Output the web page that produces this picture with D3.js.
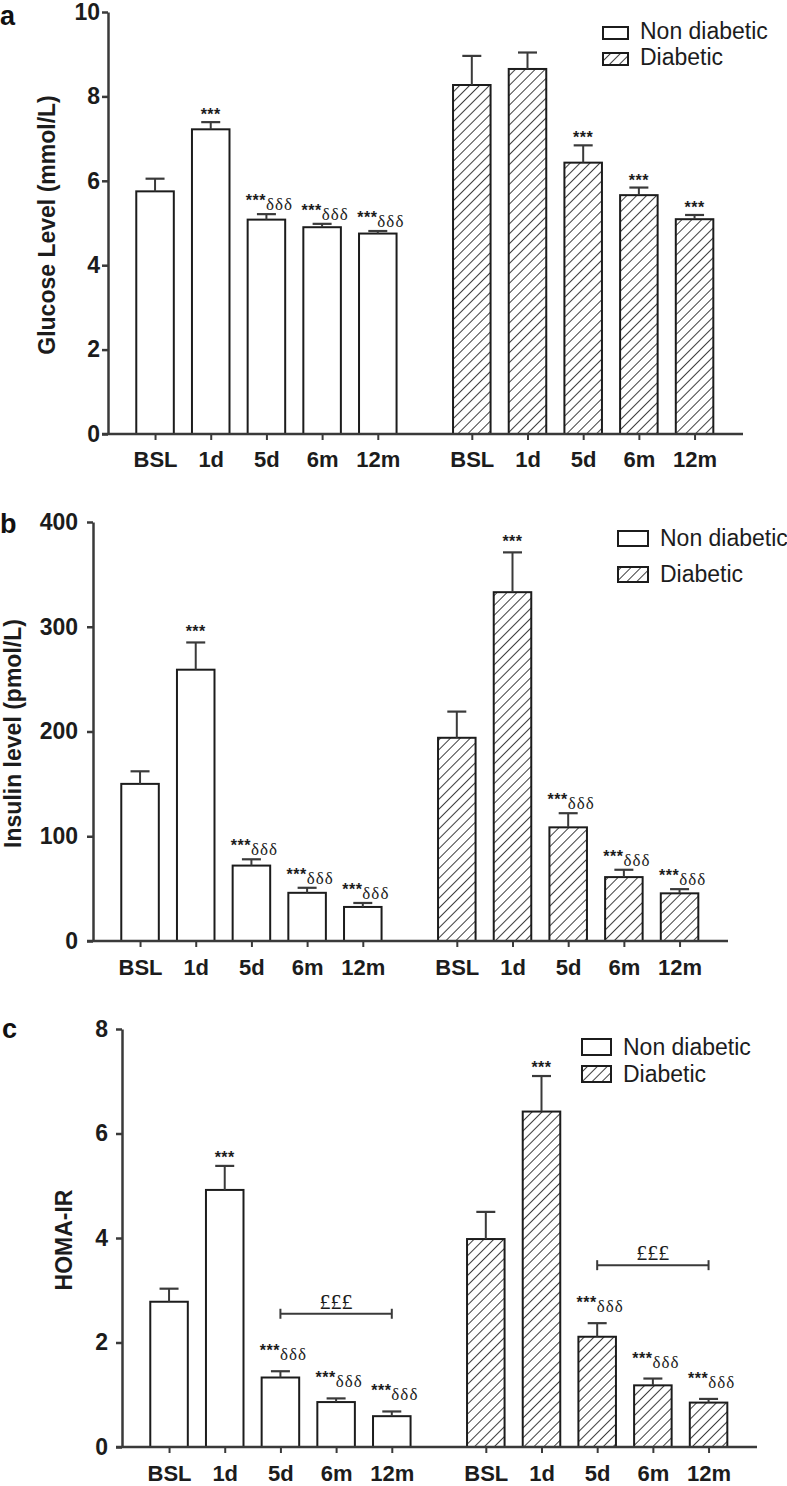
<!DOCTYPE html>
<html><head><meta charset="utf-8">
<script src="https://cdn.jsdelivr.net/npm/d3@7"></script>
<style>body{margin:0;background:#fff}svg{display:block}</style>
</head><body><svg id="chart" width="787" height="1486"></svg>
<script>
// ---------- data ----------
const categories = ["BSL", "1d", "5d", "6m", "12m"];
const groups = ["Non diabetic", "Diabetic"];

const glucoseND    = [5.75, 7.22, 5.08, 4.90, 4.75];
const glucoseNDErr = [0.30, 0.17, 0.13, 0.08, 0.06];
const glucoseD     = [8.27, 8.65, 6.43, 5.66, 5.09];
const glucoseDErr  = [0.69, 0.39, 0.41, 0.18, 0.10];
const glucoseNDAnn = ["", "***", "***δδδ", "***δδδ", "***δδδ"];
const glucoseDAnn  = ["", "", "***", "***", "***"];

const insulinND    = [150, 259, 72, 46, 32.5];
const insulinNDErr = [12, 26, 6, 4.8, 3.8];
const insulinD     = [194, 333, 108.5, 61, 45.5];
const insulinDErr  = [25, 38, 13.5, 7, 4];
const insulinNDAnn = ["", "***", "***δδδ", "***δδδ", "***δδδ"];
const insulinDAnn  = ["", "***", "***δδδ", "***δδδ", "***δδδ"];

const homaND    = [2.78, 4.92, 1.33, 0.86, 0.59];
const homaNDErr = [0.25, 0.46, 0.12, 0.07, 0.09];
const homaD     = [3.98, 6.42, 2.11, 1.18, 0.85];
const homaDErr  = [0.52, 0.68, 0.26, 0.13, 0.07];
const homaNDAnn = ["", "***", "***δδδ", "***δδδ", "***δδδ"];
const homaDAnn  = ["", "***", "***δδδ", "***δδδ", "***δδδ"];
// bracket comparisons: [group, from, to, level, label]
const homaBrackets = [["Non diabetic", "5d", "12m", 2.55, "£££"], ["Diabetic", "5d", "12m", 3.48, "£££"]];

const glucoseTicks = [0, 2, 4, 6, 8, 10];
const insulinTicks = [0, 100, 200, 300, 400];
const homaTicks = [0, 2, 4, 6, 8];

// ---------- layout ----------
const panels = [
  {letter: "a", letterX: 0, letterY: 25, label: "Glucose Level (mmol/L)", labelX: 55,
   nd: glucoseND, ndErr: glucoseNDErr, d: glucoseD, dErr: glucoseDErr, ndAnn: glucoseNDAnn, dAnn: glucoseDAnn,
   brackets: [], domain: [0, 10], ticks: glucoseTicks, x0: 108, yTop: 12, yBottom: 434,
   yPad: 2, xPad: 11, liftS: 2, liftC: 8,
   legend: {x: 603, y: 27, w: 25, h: 12, dy: 26}},
  {letter: "b", letterX: 0, letterY: 533, label: "Insulin level (pmol/L)", labelX: 21,
   nd: insulinND, ndErr: insulinNDErr, d: insulinD, dErr: insulinDErr, ndAnn: insulinNDAnn, dAnn: insulinDAnn,
   brackets: [], domain: [0, 400], ticks: insulinTicks, x0: 93, yTop: 522, yBottom: 941,
   yPad: 9, xPad: 12, liftS: 5, liftC: 8,
   legend: {x: 618, y: 531, w: 30, h: 15, dy: 36}},
  {letter: "c", letterX: 2, letterY: 1038, label: "HOMA-IR", labelX: 72,
   nd: homaND, ndErr: homaNDErr, d: homaD, dErr: homaDErr, ndAnn: homaNDAnn, dAnn: homaDAnn,
   brackets: homaBrackets, domain: [0, 8], ticks: homaTicks, x0: 122, yTop: 1029, yBottom: 1447,
   yPad: 8, xPad: 12, liftS: 3, liftC: 15,
   legend: {x: 582, y: 1039, w: 29, h: 16, dy: 27}}
];

const INK = "#1c1c1c", AXIS = "#3a3a3a";
const SANS = "'Liberation Sans', Arial, Helvetica, sans-serif";
const SERIF = "'Liberation Serif', 'Times New Roman', serif";

const svg = d3.select("#chart");
const defs = svg.append("defs");
defs.append("pattern").attr("id", "hatch").attr("patternUnits", "userSpaceOnUse")
  .attr("width", 7).attr("height", 7).attr("patternTransform", "rotate(45)")
  .call(p => p.append("rect").attr("width", 7).attr("height", 7).attr("fill", "#fff"))
  .append("line").attr("x1", 0).attr("y1", 0).attr("x2", 0).attr("y2", 7)
  .attr("stroke", INK).attr("stroke-width", 1.7);

function drawPanel(p) {
  const g = svg.append("g");
  const y = d3.scaleLinear().domain(p.domain).range([p.yBottom, p.yTop]);
  const groupX = d3.scaleBand().domain(groups).range([p.x0 + 19.2, p.x0 + 614.4]).paddingInner(0.121);
  const innerX = d3.scaleBand().domain(categories).range([0, groupX.bandwidth()])
    .paddingInner(0.326).paddingOuter(0.163);
  const cx = (grp, c) => groupX(grp) + innerX(c) + innerX.bandwidth() / 2;

  const series = [
    {group: groups[0], values: p.nd, errs: p.ndErr, ann: p.ndAnn, fill: "#fff"},
    {group: groups[1], values: p.d, errs: p.dErr, ann: p.dAnn, fill: "url(#hatch)"}
  ];

  series.forEach(s => {
    const rows = categories.map((c, i) => ({c, v: s.values[i], e: s.errs[i], a: s.ann[i]}));
    const gg = g.append("g");
    gg.selectAll("rect.bar").data(rows).join("rect").attr("class", "bar")
      .attr("x", d => cx(s.group, d.c) - innerX.bandwidth() / 2)
      .attr("width", innerX.bandwidth())
      .attr("y", d => y(d.v)).attr("height", d => y(0) - y(d.v))
      .attr("fill", s.fill).attr("stroke", INK).attr("stroke-width", 2);
    gg.selectAll("line.err").data(rows).join("line").attr("class", "err")
      .attr("x1", d => cx(s.group, d.c)).attr("x2", d => cx(s.group, d.c))
      .attr("y1", d => y(d.v)).attr("y2", d => y(d.v + d.e))
      .attr("stroke", AXIS).attr("stroke-width", 2);
    gg.selectAll("line.cap").data(rows).join("line").attr("class", "cap")
      .attr("x1", d => cx(s.group, d.c) - 9.5).attr("x2", d => cx(s.group, d.c) + 9.5)
      .attr("y1", d => y(d.v + d.e)).attr("y2", d => y(d.v + d.e))
      .attr("stroke", AXIS).attr("stroke-width", 2.2);
    // annotations
    rows.filter(d => d.a).forEach(d => {
      const stars = d.a.replace(/δ/g, "");
      const deltas = d.a.replace(/\*/g, "");
      const lift = deltas ? p.liftC : p.liftS;
      const t = g.append("text").attr("x", cx(s.group, d.c) + (deltas ? 3 : 0))
        .attr("y", y(d.v + d.e) - lift).attr("text-anchor", "middle").attr("fill", INK);
      t.append("tspan").attr("font-family", SANS).attr("font-size", 16).attr("font-weight", "bold")
        .attr("letter-spacing", 0.5).text(stars);
      if (deltas) t.append("tspan").attr("font-family", SERIF).attr("font-size", 17)
        .attr("letter-spacing", 1).attr("dy", 4).text(deltas);
    });
  });

  // brackets
  p.brackets.forEach(([grp, from, to, level, lab]) => {
    const x1 = cx(grp, from), x2 = cx(grp, to), yy = y(level);
    g.append("line").attr("x1", x1).attr("x2", x2).attr("y1", yy).attr("y2", yy)
      .attr("stroke", AXIS).attr("stroke-width", 2);
    [x1, x2].forEach(xx => g.append("line").attr("x1", xx).attr("x2", xx)
      .attr("y1", yy - 5).attr("y2", yy + 5).attr("stroke", AXIS).attr("stroke-width", 2));
    g.append("text").attr("x", (x1 + x2) / 2).attr("y", yy - 5).attr("text-anchor", "middle")
      .attr("font-family", SERIF).attr("font-size", 22).attr("fill", INK).text(lab);
  });

  // y axis
  const ya = g.append("g").attr("transform", `translate(${p.x0},0)`)
    .call(d3.axisLeft(y).tickValues(p.ticks).tickSize(6).tickSizeOuter(0).tickPadding(p.yPad)
      .tickFormat(d3.format("d")));
  ya.select(".domain").attr("stroke", AXIS).attr("stroke-width", 2.5);
  ya.selectAll(".tick line").attr("stroke", AXIS).attr("stroke-width", 2.5);
  ya.selectAll(".tick text").attr("font-family", SANS).attr("font-size", 23)
    .attr("font-weight", "bold").attr("fill", INK);

  // x axis
  const keys = groups.flatMap(gr => categories.map(c => gr + "|" + c));
  const xOrd = d3.scaleOrdinal().domain(keys).range(keys.map(k => cx(...k.split("|"))));
  const xa = g.append("g").attr("transform", `translate(0,${p.yBottom})`)
    .call(d3.axisBottom(xOrd).tickSize(6).tickPadding(p.xPad).tickFormat(k => k.split("|")[1]));
  xa.select(".domain").remove();
  xa.selectAll(".tick line").attr("stroke", AXIS).attr("stroke-width", 2);
  xa.selectAll(".tick text").attr("font-family", SANS).attr("font-size", 22)
    .attr("font-weight", "bold").attr("fill", INK);
  g.append("line").attr("x1", p.x0 - 6).attr("x2", p.x0 + 635)
    .attr("y1", p.yBottom).attr("y2", p.yBottom).attr("stroke", AXIS).attr("stroke-width", 2.5);

  // y label
  g.append("text").attr("transform", `translate(${p.labelX},${(p.yTop + p.yBottom) / 2 + 2}) rotate(-90)`)
    .attr("text-anchor", "middle").attr("font-family", SANS).attr("font-size", 23)
    .attr("font-weight", "bold").attr("fill", INK).text(p.label);

  // panel letter
  g.append("text").attr("x", p.letterX).attr("y", p.letterY).attr("font-family", SANS)
    .attr("font-size", 27).attr("font-weight", "bold").attr("fill", "#111").text(p.letter);

  // legend
  const L = p.legend;
  groups.forEach((gr, i) => {
    const by = L.y + i * L.dy;
    g.append("rect").attr("x", L.x).attr("y", by).attr("width", L.w).attr("height", L.h)
      .attr("fill", i === 0 ? "#fff" : "url(#hatch)").attr("stroke", INK).attr("stroke-width", 2);
    g.append("text").attr("x", L.x + L.w + 12).attr("y", by + L.h).attr("font-family", SANS)
      .attr("font-size", 23).attr("fill", INK).text(gr);
  });
}

panels.forEach(drawPanel);
</script>
</body></html>
